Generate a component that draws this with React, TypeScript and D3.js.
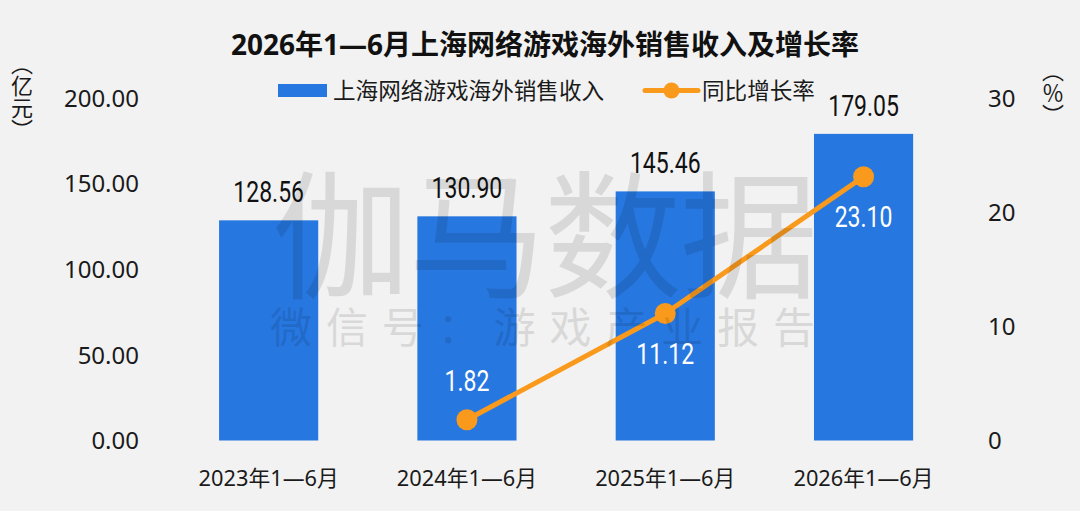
import React from 'react';
import * as d3 from 'd3';

const categories = ['2023年1—6月', '2024年1—6月', '2025年1—6月', '2026年1—6月'];
const revenue = [128.56, 130.9, 145.46, 179.05];
const growth: (number | null)[] = [null, 1.82, 11.12, 23.1];
const leftTicks = [0, 50, 100, 150, 200];
const rightTicks = [0, 10, 20, 30];
const title = '2026年1—6月上海网络游戏海外销售收入及增长率';
const legendBar = '上海网络游戏海外销售收入';
const legendLine = '同比增长率';
const leftUnit = '（亿元）';
const rightUnit = '（％）';
const watermark = '伽马数据';
const watermarkSub = '微信号：游戏产业报告';

const W = 1080;
const H = 511;
const BG = '#F2F2F2';
const BLUE = '#2777E0';
const ORANGE = '#F99A1C';
const TEXT = '#1a1a1a';
const UI_FONT = "'Noto Sans', 'Noto Sans CJK SC', sans-serif";
const CJK_FONT = "'Noto Sans CJK SC', 'Noto Sans', sans-serif";
const NUM_FONT = "Roboto, 'Noto Sans', sans-serif";
const NUM_SCALE = 0.78;

function NumLabel(props: { x: number; y: number; text: string; fill: string }) {
  return (
    <text
      transform={`translate(${props.x},${props.y}) scale(${NUM_SCALE},1)`}
      textAnchor="middle"
      fontFamily={NUM_FONT}
      fontSize={29.5}
      fill={props.fill}
    >
      {props.text}
    </text>
  );
}

export default function App() {
  const x = d3
    .scaleBand<string>()
    .domain(categories)
    .range([169.5, 962.7])
    .paddingInner(0.5)
    .paddingOuter(0.25);
  const yL = d3.scaleLinear().domain([0, 200]).range([440.5, 98]);
  const yR = d3.scaleLinear().domain([0, 30]).range([440.5, 98]);
  const bw = x.bandwidth();
  const cx = (c: string) => (x(c) as number) + bw / 2;

  const pts = categories
    .map((c, i) => ({ c, v: growth[i] }))
    .filter((d) => d.v !== null) as { c: string; v: number }[];

  const line = d3
    .line<{ c: string; v: number }>()
    .x((d) => cx(d.c))
    .y((d) => yR(d.v));

  return (
    <svg
      width={W}
      height={H}
      viewBox={`0 0 ${W} ${H}`}
      style={{ position: 'absolute', left: 0, top: 0, display: 'block' }}
    >
      <rect x={0} y={0} width={W} height={H} fill={BG} />

      {/* Title */}
      <text
        x={545}
        y={55}
        textAnchor="middle"
        fontFamily={UI_FONT}
        fontWeight={700}
        fontSize={28}
        fill="#111"
      >
        {title}
      </text>

      {/* Legend */}
      <rect x={278} y={84} width={49} height={13} fill={BLUE} />
      <text x={333} y={98.5} fontFamily={CJK_FONT} fontSize={22.6} fill={TEXT}>
        {legendBar}
      </text>
      <line x1={645} x2={698} y1={90.5} y2={90.5} stroke={ORANGE} strokeWidth={5} strokeLinecap="round" />
      <circle cx={671.5} cy={90.5} r={8} fill={ORANGE} />
      <text x={702} y={98.5} fontFamily={CJK_FONT} fontSize={22.6} fill={TEXT}>
        {legendLine}
      </text>

      {/* Axis units */}
      <text
        x={22}
        y={97}
        textAnchor="middle"
        fontFamily={CJK_FONT}
        fontSize={22}
        fill={TEXT}
        style={{ writingMode: 'vertical-rl' } as any}
      >
        {leftUnit}
      </text>
      <text
        x={1053}
        y={93}
        textAnchor="middle"
        fontFamily={CJK_FONT}
        fontSize={22}
        fill={TEXT}
        style={{ writingMode: 'vertical-rl', textOrientation: 'upright' } as any}
      >
        {rightUnit}
      </text>

      {/* Left axis labels */}
      {leftTicks.map((t) => (
        <text
          key={'l' + t}
          x={139}
          y={yL(t)}
          dy="0.36em"
          textAnchor="end"
          fontFamily={UI_FONT}
          fontSize={24}
          fill={TEXT}
        >
          {d3.format('.2f')(t)}
        </text>
      ))}

      {/* Right axis labels */}
      {rightTicks.map((t) => (
        <text
          key={'r' + t}
          x={988}
          y={yR(t)}
          dy="0.36em"
          textAnchor="start"
          fontFamily={UI_FONT}
          fontSize={24}
          fill={TEXT}
        >
          {t}
        </text>
      ))}

      {/* Bars */}
      {categories.map((c, i) => (
        <rect
          key={'b' + c}
          x={x(c)}
          y={yL(revenue[i])}
          width={bw}
          height={yL(0) - yL(revenue[i])}
          fill={BLUE}
        />
      ))}

      {/* Line */}
      <path d={line(pts) || ''} fill="none" stroke={ORANGE} strokeWidth={5} strokeLinejoin="round" />
      {pts.map((d) => (
        <circle key={'p' + d.c} cx={cx(d.c)} cy={yR(d.v)} r={10.5} fill={ORANGE} />
      ))}

      {/* Watermark */}
      <g fill="#000" opacity={0.1} fontFamily={CJK_FONT} fontWeight={400}>
        <text x={272} y={287} fontSize={138} textLength={546} lengthAdjust="spacing">
          {watermark}
        </text>
        <text x={270} y={343} fontSize={42} textLength={545} lengthAdjust="spacing">
          {watermarkSub}
        </text>
      </g>

      {/* Bar value labels */}
      {categories.map((c, i) => (
        <NumLabel
          key={'v' + c}
          x={cx(c)}
          y={yL(revenue[i]) - 18}
          text={d3.format('.2f')(revenue[i])}
          fill="#111"
        />
      ))}

      {/* Growth labels */}
      {pts.map((d) => {
        const py = yR(d.v);
        const above = py + 55 > yL(0);
        return (
          <NumLabel
            key={'g' + d.c}
            x={cx(d.c)}
            y={above ? py - 28.5 : py + 50.5}
            text={d3.format('.2f')(d.v)}
            fill="#fff"
          />
        );
      })}

      {/* Category labels */}
      {categories.map((c) => (
        <text
          key={'x' + c}
          x={cx(c)}
          y={486}
          textAnchor="middle"
          fontFamily={UI_FONT}
          fontSize={21.8}
          fill={TEXT}
        >
          {c}
        </text>
      ))}
    </svg>
  );
}
